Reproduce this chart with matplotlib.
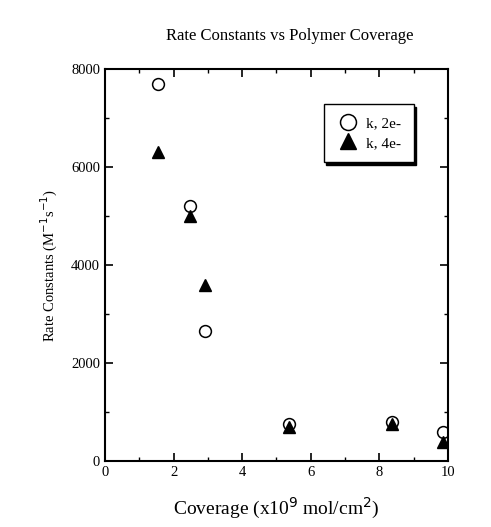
import matplotlib
matplotlib.use("Agg")
import matplotlib.pyplot as plt
from matplotlib.ticker import MultipleLocator

coverage_2e = [1.55, 2.48, 2.92, 5.36, 8.37, 9.85]
k_2e = [7700, 5200, 2650, 750, 800, 600]
coverage_4e = [1.55, 2.48, 2.92, 5.36, 8.37, 9.85]
k_4e = [6300, 5000, 3600, 700, 760, 380]

plt.rcParams['font.family'] = ['Liberation Serif', 'DejaVu Serif']

fig = plt.figure(figsize=(4.91, 5.27), dpi=100)
ax = fig.add_axes([0.2138, 0.1252, 0.6986, 0.7438])

ax.plot(coverage_2e, k_2e, linestyle='none', marker='o', markersize=8.5,
        markerfacecolor='white', markeredgecolor='black', markeredgewidth=1.1, label='k, 2e-')
ax.plot(coverage_4e, k_4e, linestyle='none', marker='^', markersize=9,
        markerfacecolor='black', markeredgecolor='black', label='k, 4e-')

ax.set_xlim(0, 10)
ax.set_ylim(0, 8000)
ax.xaxis.set_major_locator(MultipleLocator(2))
ax.xaxis.set_minor_locator(MultipleLocator(1))
ax.yaxis.set_major_locator(MultipleLocator(2000))
ax.yaxis.set_minor_locator(MultipleLocator(1000))
ax.tick_params(which='both', direction='in', top=True, right=True, labelsize=10.5)
ax.tick_params(which='major', length=6, width=1.2)
ax.tick_params(which='minor', length=3, width=1)
for s in ax.spines.values():
    s.set_linewidth(1.5)

ax.set_xlabel('Coverage (x10$^{9}$ mol/cm$^{2}$)', fontsize=14, labelpad=12)
ax.set_ylabel('Rate Constants (M$^{-1}$s$^{-1}$)', fontsize=10.5, labelpad=8)
fig.text(0.59, 0.932, 'Rate Constants vs Polymer Coverage', ha='center', va='center', fontsize=12)

leg = ax.legend(loc='upper left', bbox_to_anchor=(0.615, 0.93), frameon=True,
                shadow={'color': 'black', 'alpha': 1.0},
                fancybox=False, fontsize=11, handletextpad=0.4, borderpad=0.8,
                labelspacing=0.4, markerscale=1.35, handlelength=1.6)
leg.get_frame().set_edgecolor('black')
leg.get_frame().set_linewidth(1.0)

fig.savefig('out.png', dpi=100)
